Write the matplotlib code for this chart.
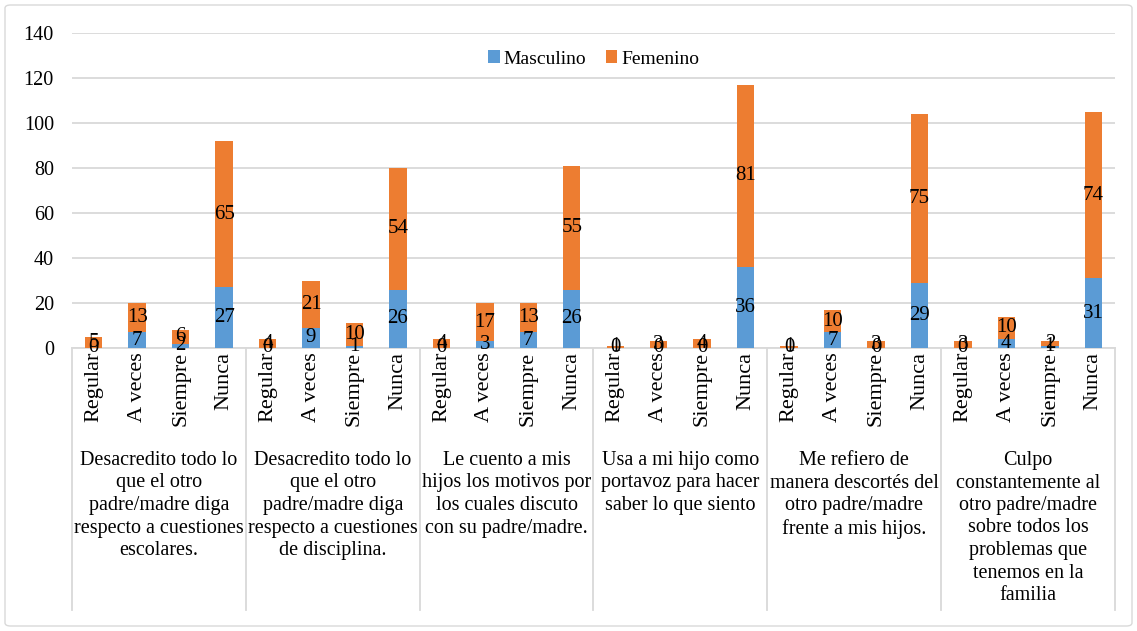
import matplotlib
matplotlib.use('Agg')
import matplotlib.pyplot as plt
from matplotlib.patches import FancyBboxPatch

plt.rcParams['font.family'] = ['Liberation Serif', 'DejaVu Serif']

# data
groups = [
    "Desacredito todo lo\nque el otro\npadre/madre diga\nrespecto a cuestiones\nescolares.",
    "Desacredito todo lo\nque el otro\npadre/madre diga\nrespecto a cuestiones\nde disciplina.",
    "Le cuento a mis\nhijos los motivos por\nlos cuales discuto\ncon su padre/madre.",
    "Usa a mi hijo como\nportavoz para hacer\nsaber lo que siento",
    "Me refiero de\nmanera descortés del\notro padre/madre\nfrente a mis hijos.",
    "Culpo\nconstantemente al\notro padre/madre\nsobre todos los\nproblemas que\ntenemos en la\nfamilia",
]
answers = ["Regular", "A veces", "Siempre", "Nunca"]

masculino = [0, 7, 2, 27,
             0, 9, 1, 26,
             0, 3, 7, 26,
             0, 0, 0, 36,
             0, 7, 0, 29,
             0, 4, 1, 31]
femenino = [5, 13, 6, 65,
            4, 21, 10, 54,
            4, 17, 13, 55,
            1, 3, 4, 81,
            1, 10, 3, 75,
            3, 10, 2, 74]

blue = '#5B9BD5'
orange = '#ED7D31'
grid_c = '#D9D9D9'
fs = 14.5

W, H = 1137, 631
fig = plt.figure(figsize=(W / 100, H / 100), dpi=100)
ax = fig.add_axes([72 / W, 1 - 348 / H, (1115 - 72) / W, (348 - 33) / H])

x = list(range(len(masculino)))
ax.bar(x, masculino, width=0.4, color=blue, label='Masculino', zorder=3)
ax.bar(x, femenino, width=0.4, bottom=masculino, color=orange, label='Femenino', zorder=3)

for i in x:
    m, f = masculino[i], femenino[i]
    ax.text(i, m / 2, str(m), ha='center', va='center', fontsize=fs + 0.5, zorder=4)
    ax.text(i, m + f / 2, str(f), ha='center', va='center', fontsize=fs + 0.5, zorder=4)

ax.set_xlim(-0.5, len(x) - 0.5)
ax.set_ylim(0, 140)
ax.set_yticks(range(0, 141, 20))
ax.tick_params(axis='y', length=0, labelsize=fs, pad=13)
ax.set_xticks([])
ax.yaxis.grid(True, color=grid_c, linewidth=1.3, zorder=0)
for s in ['top', 'right', 'left']:
    ax.spines[s].set_visible(False)
ax.spines['bottom'].set_color(grid_c)
ax.spines['bottom'].set_linewidth(1.3)

trans = ax.get_xaxis_transform()
for i in x:
    ax.text(i, -0.012, answers[i % 4], rotation=90, ha='center', va='top',
            fontsize=16, transform=trans)

for g, label in enumerate(groups):
    ax.text(g * 4 + 1.5, -(451 - 348) / (348 - 33), label, ha='center', va='top',
            fontsize=fs, linespacing=1.25, transform=trans)

bottom_y = -(610 - 348) / (348 - 33)
for g in range(len(groups) + 1):
    ax.plot([g * 4 - 0.5, g * 4 - 0.5], [0, bottom_y], color=grid_c,
            linewidth=1.3, transform=trans, clip_on=False)

ax.legend(loc='upper center', bbox_to_anchor=(0.5, 1.0), ncol=2, frameon=False,
          fontsize=fs - 0.5, handlelength=0.6, handleheight=0.6, columnspacing=1.0,
          handletextpad=0.2)

border = FancyBboxPatch((5 / W, 5 / H), 1 - 10 / W, 1 - 10 / H,
                        boxstyle='round,pad=0,rounding_size=0.005',
                        transform=fig.transFigure, fill=False,
                        edgecolor=grid_c, linewidth=1.0)
fig.patches.append(border)

fig.savefig('out.png', dpi=100)
